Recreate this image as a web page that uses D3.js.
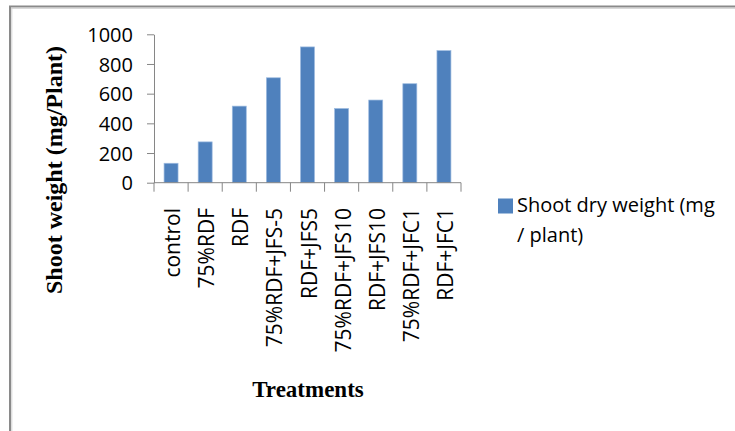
<!DOCTYPE html>
<html><head><meta charset="utf-8">
<script src="https://cdn.jsdelivr.net/npm/d3@7"></script>
<style>html,body{margin:0;padding:0;background:#fff;}svg{display:block;}</style>
</head><body>
<svg id="c" width="735" height="431"></svg>
<script>
const categories = ["control","75%RDF","RDF","75%RDF+JFS-5","RDF+JFS5","75%RDF+JFS10","RDF+JFS10","75%RDF+JFC1","RDF+JFC1"];
const shootDryWeight = [131, 275, 516, 707, 915, 500, 557, 667, 890];
const yTicks = [0, 200, 400, 600, 800, 1000];
const seriesName = ["Shoot dry weight (mg", "/ plant)"];

const svg = d3.select("#c");
const axisColor = "#868686";

// frame
svg.append("line").attr("x1",10).attr("x2",10).attr("y1",6.5).attr("y2",431).attr("stroke","#8a8a8a").attr("stroke-width",2);
svg.append("line").attr("x1",9).attr("x2",735).attr("y1",6.5).attr("y2",6.5).attr("stroke","#8a8a8a").attr("stroke-width",2);
svg.append("line").attr("x1",11.8).attr("x2",11.8).attr("y1",8).attr("y2",431).attr("stroke","#d0d0d0").attr("stroke-width",1);
svg.append("line").attr("x1",11).attr("x2",735).attr("y1",8.3).attr("y2",8.3).attr("stroke","#d0d0d0").attr("stroke-width",1);

const x = d3.scaleBand().domain(categories).range([154, 461]).paddingInner(0.59).paddingOuter(0.295);
const y = d3.scaleLinear().domain([0, 1000]).range([182.7, 34.3]);

// bars
svg.append("g").selectAll("rect").data(categories).join("rect")
  .attr("x", d => x(d))
  .attr("width", x.bandwidth())
  .attr("y", (d,i) => y(shootDryWeight[i]))
  .attr("height", (d,i) => y(0) - y(shootDryWeight[i]))
  .attr("fill", "#4F81BD")
  .attr("stroke", "#9dbbe0").attr("stroke-width", 0.7);

// y axis
const ya = svg.append("g").attr("transform", "translate(154,0)")
  .call(d3.axisLeft(y).tickValues(yTicks).tickFormat(d3.format("d")).tickSize(7).tickSizeOuter(0).tickPadding(14));
ya.select(".domain").attr("stroke", axisColor);
ya.selectAll(".tick line").attr("stroke", axisColor);
ya.selectAll(".tick text").attr("font-family","'Open Sans'").attr("font-size","20px").attr("fill","#000").attr("dy","0.36em");

// x axis line + boundary ticks
const step = x.step();
const bounds = [x.range()[0]].concat(categories.map(d => x(d) + x.bandwidth() + step * x.paddingInner() / 2));
svg.append("line").attr("x1", x.range()[0]).attr("x2", x.range()[1]).attr("y1", y(0)).attr("y2", y(0)).attr("stroke", axisColor);
svg.append("g").selectAll("line").data(bounds).join("line")
  .attr("x1", d => d).attr("x2", d => d).attr("y1", y(0)).attr("y2", y(0) + 9).attr("stroke", axisColor);

// x labels
svg.append("g").selectAll("text").data(categories).join("text")
  .attr("transform", d => `translate(${x(d) + x.bandwidth()/2 + 9},208) rotate(-90)`)
  .attr("text-anchor", "end")
  .attr("font-family","'Open Sans'").attr("font-size","21px").attr("fill","#000")
  .text(d => d);

// axis titles
svg.append("text")
  .attr("transform", "translate(62,170) rotate(-90)")
  .attr("text-anchor","middle")
  .attr("font-family","'Liberation Serif'").attr("font-weight","bold").attr("font-size","24px")
  .text("Shoot weight (mg/Plant)");
svg.append("text")
  .attr("x", 308).attr("y", 397)
  .attr("text-anchor","middle")
  .attr("font-family","'Liberation Serif'").attr("font-weight","bold").attr("font-size","23px")
  .text("Treatments");

// legend
svg.append("rect").attr("x",498).attr("y",198.5).attr("width",15).attr("height",15).attr("fill","#4F81BD");
svg.append("g").selectAll("text").data(seriesName).join("text")
  .attr("x", 517).attr("y", (d,i) => 212 + i*29.5)
  .attr("font-family","'Open Sans'").attr("font-size","20px").attr("fill","#000")
  .text(d => d);
</script>
</body></html>
